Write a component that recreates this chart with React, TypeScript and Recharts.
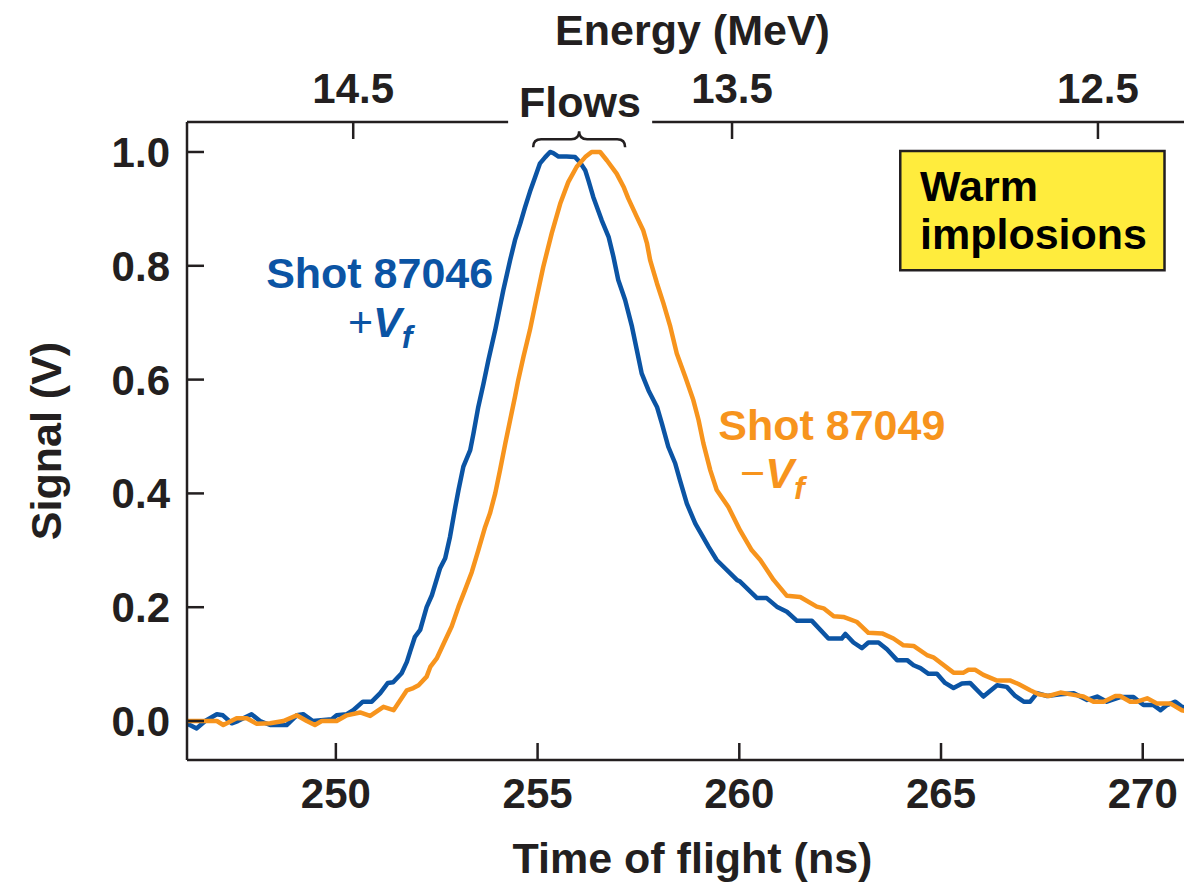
import React from 'react';
import {
  LineChart,
  Line,
  XAxis,
  YAxis,
  ReferenceLine,
  ReferenceDot,
  ReferenceArea,
} from 'recharts';

// ---------- data ----------
const timeTicks = [250, 255, 260, 265, 270];
const signalTicks = [0, 0.2, 0.4, 0.6, 0.8, 1.0];
const energyLabels = ['14.5', '13.5', '12.5'];
const energyTickTimes = [250.43, 259.82, 268.89];

const blueTime = [246.31, 246.38, 246.55, 246.76, 247.05, 247.2, 247.42, 247.57, 247.91, 248.12, 248.37, 248.78, 249.03, 249.19, 249.43, 249.9, 250.02, 250.27, 250.43, 250.67, 250.89, 251.1, 251.29, 251.42, 251.63, 251.76, 251.84, 251.96, 252.09, 252.25, 252.38, 252.58, 252.71, 252.83, 252.96, 253.04, 253.16, 253.33, 253.41, 253.53, 253.66, 253.78, 253.95, 254.15, 254.32, 254.44, 254.57, 254.69, 254.81, 254.94, 255.06, 255.19, 255.31, 255.39, 255.52, 255.72, 255.93, 256.05, 256.18, 256.26, 256.38, 256.59, 256.76, 256.88, 257.0, 257.17, 257.34, 257.46, 257.58, 257.75, 257.96, 258.08, 258.24, 258.41, 258.53, 258.7, 258.91, 259.07, 259.24, 259.44, 259.94, 260.02, 260.44, 260.68, 260.93, 261.18, 261.43, 261.8, 262.21, 262.54, 262.63, 262.83, 263.04, 263.2, 263.45, 263.66, 263.91, 264.16, 264.32, 264.49, 264.69, 264.9, 265.1, 265.31, 265.52, 265.72, 266.05, 266.39, 266.63, 266.84, 267.05, 267.21, 267.38, 267.63, 267.96, 268.29, 268.62, 268.87, 269.11, 269.44, 269.77, 270.02, 270.27, 270.44, 270.6, 270.81, 270.97, 271.37];
const blueSignal = [-0.004, -0.007, -0.013, 0.0, 0.012, 0.01, -0.004, 0.0, 0.012, 0.0, -0.007, -0.007, 0.01, 0.012, 0.0, 0.003, 0.01, 0.012, 0.019, 0.034, 0.034, 0.049, 0.067, 0.068, 0.084, 0.104, 0.122, 0.148, 0.16, 0.2, 0.221, 0.268, 0.286, 0.324, 0.376, 0.406, 0.447, 0.476, 0.505, 0.552, 0.593, 0.634, 0.687, 0.757, 0.81, 0.845, 0.874, 0.903, 0.93, 0.956, 0.98, 0.991, 1.0, 0.998, 0.992, 0.992, 0.991, 0.982, 0.968, 0.95, 0.921, 0.88, 0.851, 0.816, 0.775, 0.74, 0.693, 0.652, 0.611, 0.581, 0.552, 0.523, 0.482, 0.453, 0.423, 0.382, 0.347, 0.327, 0.306, 0.283, 0.248, 0.245, 0.216, 0.216, 0.201, 0.192, 0.176, 0.176, 0.145, 0.145, 0.153, 0.138, 0.128, 0.138, 0.138, 0.126, 0.107, 0.107, 0.098, 0.093, 0.083, 0.083, 0.067, 0.058, 0.066, 0.067, 0.043, 0.063, 0.06, 0.044, 0.034, 0.034, 0.049, 0.044, 0.047, 0.049, 0.037, 0.043, 0.034, 0.042, 0.042, 0.028, 0.028, 0.019, 0.028, 0.034, 0.025, 0.02];

const orangeTime = [246.31, 246.8, 247.05, 247.21, 247.54, 247.79, 248.04, 248.37, 248.7, 249.03, 249.28, 249.48, 249.65, 250.02, 250.27, 250.6, 250.85, 251.18, 251.43, 251.76, 251.92, 252.05, 252.25, 252.34, 252.5, 252.71, 252.87, 253.04, 253.2, 253.37, 253.53, 253.7, 253.82, 253.95, 254.07, 254.2, 254.32, 254.44, 254.52, 254.65, 254.81, 254.98, 255.14, 255.35, 255.56, 255.76, 255.97, 256.18, 256.34, 256.55, 256.72, 256.96, 257.13, 257.25, 257.46, 257.62, 257.71, 257.79, 257.96, 258.12, 258.29, 258.45, 258.66, 258.86, 258.99, 259.11, 259.28, 259.44, 259.73, 260.02, 260.31, 260.52, 260.85, 261.18, 261.51, 261.92, 262.09, 262.34, 262.58, 262.92, 263.2, 263.54, 263.82, 264.07, 264.32, 264.65, 264.81, 265.31, 265.56, 265.68, 265.85, 266.05, 266.39, 266.72, 266.92, 267.21, 267.42, 267.67, 267.96, 268.29, 268.53, 268.78, 269.03, 269.32, 269.44, 269.69, 269.86, 270.11, 270.35, 270.68, 270.97, 271.37];
const orangeSignal = [0.0, 0.0, 0.0, -0.007, 0.005, 0.005, -0.005, -0.004, 0.0, 0.01, 0.0, -0.007, 0.0, 0.0, 0.01, 0.015, 0.009, 0.025, 0.019, 0.054, 0.058, 0.063, 0.078, 0.095, 0.11, 0.142, 0.166, 0.201, 0.23, 0.262, 0.3, 0.341, 0.365, 0.4, 0.441, 0.488, 0.529, 0.57, 0.599, 0.64, 0.687, 0.745, 0.798, 0.857, 0.909, 0.947, 0.974, 0.991, 1.0, 1.0, 0.985, 0.962, 0.939, 0.918, 0.886, 0.862, 0.84, 0.81, 0.769, 0.734, 0.693, 0.646, 0.605, 0.564, 0.529, 0.488, 0.441, 0.406, 0.376, 0.335, 0.3, 0.283, 0.248, 0.22, 0.218, 0.201, 0.198, 0.184, 0.183, 0.174, 0.155, 0.154, 0.145, 0.133, 0.132, 0.116, 0.112, 0.085, 0.085, 0.09, 0.09, 0.081, 0.071, 0.071, 0.065, 0.054, 0.047, 0.044, 0.05, 0.046, 0.043, 0.034, 0.034, 0.044, 0.044, 0.034, 0.034, 0.04, 0.031, 0.031, 0.019, 0.012];

// ---------- styling ----------
const FONT = '"Liberation Sans", Arial, Helvetica, sans-serif';
const BLUE = '#0B54A4';
const ORANGE = '#F7941D';
const INK = '#231F20';
const BOX_FILL = '#FFEC3D';

const X_DOMAIN: [number, number] = [246.31, 271.37];
const Y_DOMAIN: [number, number] = [-0.0685, 1.0527];

const blueData = blueTime
  .slice(0, Math.min(blueTime.length, blueSignal.length))
  .map((t, i) => ({ t, v: blueSignal[i] }));
const orangeData = orangeTime
  .slice(0, Math.min(orangeTime.length, orangeSignal.length))
  .map((t, i) => ({ t, v: orangeSignal[i] }));

const tickStyle = { fill: INK, fontSize: 42, fontWeight: 700, fontFamily: FONT };
const labelFont = { fontFamily: FONT, fontWeight: 700, fontSize: 43 };

const textShape = (render: (cx: number, cy: number) => React.ReactElement) => (p: any) =>
  render(p.cx, p.cy);

export default function App() {
  return (
    <div
      style={{
        position: 'absolute',
        left: 0,
        top: 0,
        width: 1184,
        height: 892,
        overflow: 'hidden',
        background: '#fff',
      }}
    >
      <LineChart width={1200} height={892} margin={{ top: 0, right: 0, bottom: 0, left: 0 }}>
        <XAxis
          xAxisId={0}
          type="number"
          dataKey="t"
          domain={X_DOMAIN}
          allowDataOverflow
          ticks={timeTicks}
          interval={0}
          height={132}
          tickSize={-17}
          tickMargin={35}
          tick={tickStyle}
          axisLine={{ stroke: INK, strokeWidth: 2.5 }}
          tickLine={{ stroke: INK, strokeWidth: 2.5 }}
          label={{
            content: (props: any) => {
              const vb = props.viewBox || {};
              return (
                <text
                  x={vb.x + vb.width / 2}
                  y={vb.y + vb.height - 19}
                  textAnchor="middle"
                  fill={INK}
                  {...labelFont}
                >
                  Time of flight (ns)
                </text>
              );
            },
          }}
        />
        <XAxis
          xAxisId="top"
          orientation="top"
          type="number"
          dataKey="t"
          domain={X_DOMAIN}
          allowDataOverflow
          ticks={energyTickTimes}
          interval={0}
          height={122}
          tickSize={-17}
          tickMargin={36}
          tick={tickStyle}
          tickFormatter={(v: number) => energyLabels[energyTickTimes.indexOf(v)] ?? ''}
          axisLine={false}
          tickLine={{ stroke: INK, strokeWidth: 2.5 }}
          label={{
            content: (props: any) => {
              const vb = props.viewBox || {};
              return (
                <text
                  x={vb.x + vb.width / 2}
                  y={vb.y + 45}
                  textAnchor="middle"
                  fill={INK}
                  {...labelFont}
                >
                  Energy (MeV)
                </text>
              );
            },
          }}
        />
        <YAxis
          yAxisId={0}
          type="number"
          domain={Y_DOMAIN}
          allowDataOverflow
          ticks={signalTicks}
          interval={0}
          width={187}
          tickSize={-17}
          tickMargin={34}
          tick={tickStyle}
          tickFormatter={(v: number) => v.toFixed(1)}
          axisLine={{ stroke: INK, strokeWidth: 2.5 }}
          tickLine={{ stroke: INK, strokeWidth: 2.5 }}
          label={{
            content: (props: any) => {
              const vb = props.viewBox || {};
              const cx = vb.x + 61;
              const cy = vb.y + vb.height / 2;
              return (
                <text
                  x={cx}
                  y={cy}
                  transform={`rotate(-90, ${cx}, ${cy})`}
                  textAnchor="middle"
                  fill={INK}
                  {...labelFont}
                >
                  Signal (V)
                </text>
              );
            },
          }}
        />
        <YAxis
          yAxisId="right"
          orientation="right"
          type="number"
          domain={Y_DOMAIN}
          allowDataOverflow
          ticks={signalTicks}
          interval={0}
          width={2}
          tickSize={-17}
          tick={false}
          axisLine={{ stroke: INK, strokeWidth: 2.5 }}
          tickLine={{ stroke: INK, strokeWidth: 2.5 }}
        />

        {/* top axis line with a gap for the "Flows" label */}
        <ReferenceLine
          segment={[
            { x: X_DOMAIN[0], y: Y_DOMAIN[1] },
            { x: 254.27, y: Y_DOMAIN[1] },
          ]}
          stroke={INK}
          strokeWidth={2.5}
          ifOverflow="visible"
        />
        <ReferenceLine
          segment={[
            { x: 257.84, y: Y_DOMAIN[1] },
            { x: X_DOMAIN[1], y: Y_DOMAIN[1] },
          ]}
          stroke={INK}
          strokeWidth={2.5}
          ifOverflow="visible"
        />

        <ReferenceArea
          x1={263.99}
          x2={270.54}
          y1={0.792}
          y2={1.0018}
          fill={BOX_FILL}
          fillOpacity={1}
          stroke={INK}
          strokeWidth={2.5}
          ifOverflow="visible"
        />

        <Line
          data={blueData}
          dataKey="v"
          type="linear"
          stroke={BLUE}
          strokeWidth={4.5}
          dot={false}
          strokeLinejoin="round"
          isAnimationActive={false}
        />
        <Line
          data={orangeData}
          dataKey="v"
          type="linear"
          stroke={ORANGE}
          strokeWidth={4.5}
          dot={false}
          strokeLinejoin="round"
          isAnimationActive={false}
        />

        {/* Flows brace and label */}
        <ReferenceDot
          x={256.03}
          y={1.0223}
          r={0}
          ifOverflow="visible"
          shape={textShape((cx, cy) => (
            <path
              d={`M ${cx - 46} ${cy + 8} Q ${cx - 46} ${cy} ${cx - 38} ${cy} L ${cx - 8} ${cy} Q ${cx} ${cy} ${cx} ${cy - 8} Q ${cx} ${cy} ${cx + 8} ${cy} L ${cx + 38} ${cy} Q ${cx + 46} ${cy} ${cx + 46} ${cy + 8}`}
              fill="none"
              stroke={INK}
              strokeWidth={2.5}
            />
          ))}
        />
        <ReferenceDot
          x={256.05}
          y={1.061}
          r={0}
          ifOverflow="visible"
          shape={textShape((cx, cy) => (
            <text x={cx} y={cy} textAnchor="middle" fill={INK} {...labelFont}>
              Flows
            </text>
          ))}
        />

        {/* series labels */}
        <ReferenceDot
          x={253.9}
          y={0.7606}
          r={0}
          ifOverflow="visible"
          shape={textShape((cx, cy) => (
            <text x={cx} y={cy} textAnchor="end" fill={BLUE} {...labelFont}>
              Shot 87046
            </text>
          ))}
        />
        <ReferenceDot
          x={250.3}
          y={0.6745}
          r={0}
          ifOverflow="visible"
          shape={textShape((cx, cy) => (
            <text x={cx} y={cy} textAnchor="start" fill={BLUE} {...labelFont}>
              <tspan fontWeight={400}>+</tspan>
              <tspan fontStyle="italic">V</tspan>
              <tspan fontStyle="italic" fontSize={32} dy={11}>
                f
              </tspan>
            </text>
          ))}
        />
        <ReferenceDot
          x={259.48}
          y={0.4936}
          r={0}
          ifOverflow="visible"
          shape={textShape((cx, cy) => (
            <text x={cx} y={cy} textAnchor="start" fill={ORANGE} {...labelFont}>
              Shot 87049
            </text>
          ))}
        />
        <ReferenceDot
          x={260.02}
          y={0.4093}
          r={0}
          ifOverflow="visible"
          shape={textShape((cx, cy) => (
            <text x={cx} y={cy} textAnchor="start" fill={ORANGE} {...labelFont}>
              <tspan fontWeight={400}>−</tspan>
              <tspan fontStyle="italic">V</tspan>
              <tspan fontStyle="italic" fontSize={32} dy={11}>
                f
              </tspan>
            </text>
          ))}
        />

        {/* box text */}
        <ReferenceDot
          x={264.48}
          y={0.9139}
          r={0}
          ifOverflow="visible"
          shape={textShape((cx, cy) => (
            <text x={cx} y={cy} textAnchor="start" fill="#000" {...labelFont}>
              Warm
            </text>
          ))}
        />
        <ReferenceDot
          x={264.48}
          y={0.8291}
          r={0}
          ifOverflow="visible"
          shape={textShape((cx, cy) => (
            <text x={cx} y={cy} textAnchor="start" fill="#000" {...labelFont}>
              implosions
            </text>
          ))}
        />
      </LineChart>
    </div>
  );
}
